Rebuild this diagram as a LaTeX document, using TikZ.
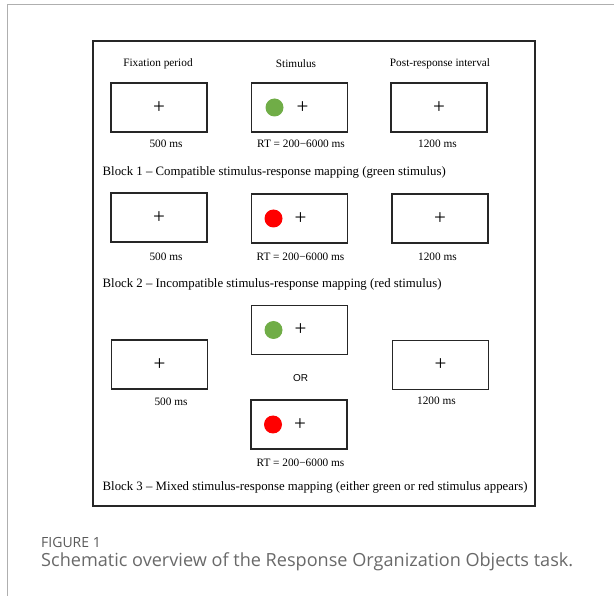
\documentclass[tikz,border=0pt]{standalone}
\usepackage{fontspec}
\setmainfont{Liberation Serif}
\newfontfamily\orfont{Liberation Sans}
\newfontfamily\capfont{Open Sans}
\usetikzlibrary{positioning}
\definecolor{stimgreen}{RGB}{112,173,71}
\definecolor{stimred}{RGB}{255,0,0}
\definecolor{capgray}{RGB}{105,105,105}
\definecolor{pagegray}{RGB}{175,175,175}
\tikzset{
  screen/.style={draw=black!85, line width=1.3pt, minimum width=96pt, minimum height=49pt, inner sep=0pt},
  fix/.style={font=\fontsize{21}{21}\selectfont, inner sep=0pt},
  lab/.style={font=\fontsize{11.3}{13}\selectfont, inner sep=0pt},
  blocklab/.style={font=\fontsize{12.8}{15}\selectfont, inner sep=0pt, anchor=west},
  dot/.style={circle, minimum size=18pt, inner sep=0pt},
}

\begin{document}
\begin{tikzpicture}[x=1pt, y=-1pt]
  \useasboundingbox (0,0) rectangle (614,596);
  % page frame
  \draw[pagegray, line width=1.2pt] (7.5,596) -- (7.5,4.5) -- (614,4.5);
  % outer frame
  \draw[black!85, line width=1.3pt] (93,41) rectangle (535,506);
  % headings
  \node[lab] (hfix) at (158,64) {Fixation period};
  \node[lab] (hstim) at (296,64) {Stimulus};
  \node[lab] (hpost) at (440,64) {Post-response interval};
  % block 1
  \node[screen] (fixA) at (159,107.5) {};
  \node[screen] (stimA) at (299.5,107.5) {};
  \node[screen] (postA) at (439,107.5) {};
  \node[fix] at (fixA) {+};
  \node[fix] at ([xshift=3pt]stimA.center) {+};
  \node[fix] at (postA) {+};
  \node[dot, fill=stimgreen] (gA) at ([xshift=-25pt]stimA.center) {};
  \node[lab] (tfixA) at (166,144) {500 ms};
  \node[lab] (tstimA) at (301,144) {RT = 200\textminus6000 ms};
  \node[lab] (tpostA) at (437.5,144) {1200 ms};
  \node[blocklab] (blockA) at (102.5,172) {Block 1 -- Compatible stimulus-response mapping (green stimulus)};
  % block 2
  \node[screen] (fixB) at (159,217.5) {};
  \node[screen] (stimB) at (299.5,218.5) {};
  \node[screen] (postB) at (440,218.5) {};
  \node[fix] at (fixB) {+};
  \node[fix] at ([xshift=1pt]stimB.center) {+};
  \node[fix] at (postB) {+};
  \node[dot, fill=stimred] (rB) at ([xshift=-26pt]stimB.center) {};
  \node[lab] (tfixB) at (166,256.5) {500 ms};
  \node[lab] (tstimB) at (300.5,256.5) {RT = 200\textminus6000 ms};
  \node[lab] (tpostB) at (437.5,256.5) {1200 ms};
  \node[blocklab] (blockB) at (102.5,284.5) {Block 2 -- Incompatible stimulus-response mapping (red stimulus)};
  % block 3
  \node[screen] (fixC) at (159.5,364.5) {};
  \node[screen] (stimCg) at (299.5,330) {};
  \node[screen] (stimCr) at (299,424.5) {};
  \node[screen] (postC) at (440.5,365) {};
  \node[fix] at (fixC) {+};
  \node[fix] at ([xshift=1pt]stimCg.center) {+};
  \node[fix] at ([xshift=1pt]stimCr.center) {+};
  \node[fix] at (postC) {+};
  \node[dot, fill=stimgreen] (gC) at ([xshift=-26pt]stimCg.center) {};
  \node[dot, fill=stimred] (rC) at ([xshift=-26pt]stimCr.center) {};
  \node[font=\orfont\fontsize{10}{12}\selectfont, inner sep=0pt] (orC) at (300.5,378) {OR};
  \node[lab] (tfixC) at (171,401.5) {500 ms};
  \node[lab] (tpostC) at (436.5,401) {1200 ms};
  \node[lab] (tstimC) at (300.5,462.5) {RT = 200\textminus6000 ms};
  \node[blocklab] (blockC) at (102.5,487) {Block 3 -- Mixed stimulus-response mapping (either green or red stimulus appears)};
  % caption
  \node[anchor=west, inner sep=0pt, text=capgray!85!black, font=\capfont\fontsize{14}{16}\selectfont] (figno) at (41,542) {FIGURE 1};
  \node[anchor=west, inner sep=0pt, text=capgray, font=\capfont\fontsize{18.1}{20}\selectfont] (capt) at (41,562) {Schematic overview of the Response Organization Objects task.};
\end{tikzpicture}
\end{document}
